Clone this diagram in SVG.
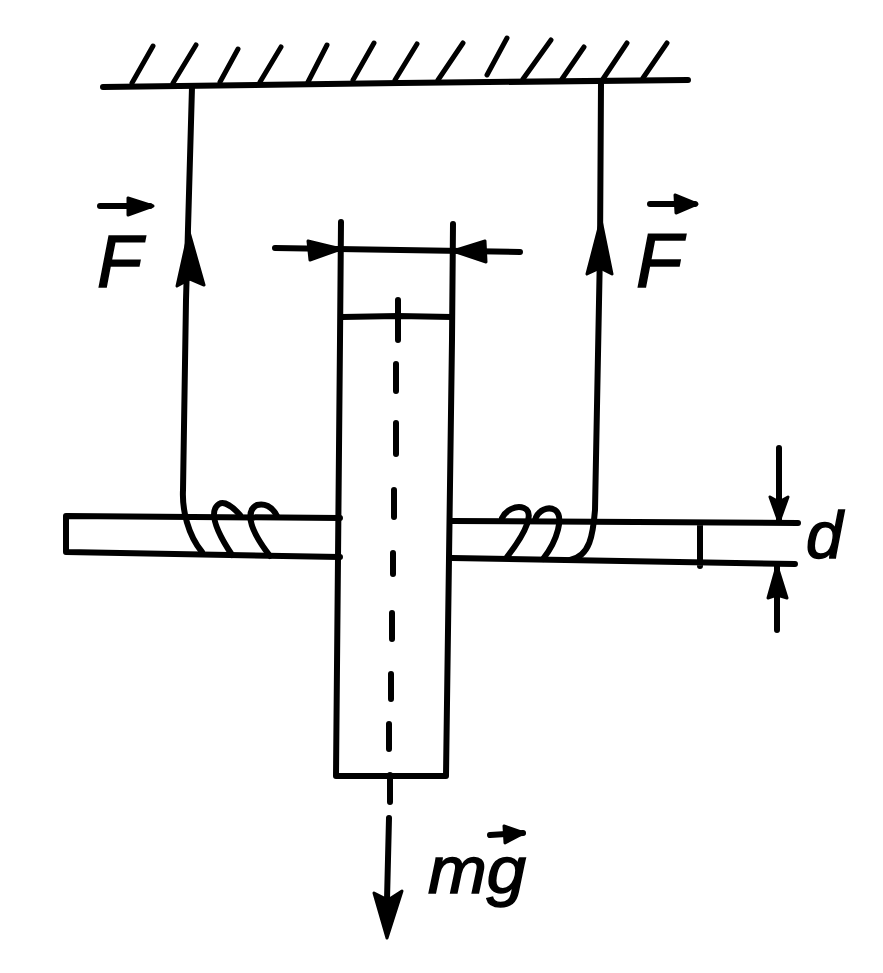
<svg xmlns="http://www.w3.org/2000/svg" width="883" height="973" viewBox="0 0 883 973">
<style>
.l{fill:none;stroke:#000;stroke-width:6;stroke-linecap:round;stroke-linejoin:round}
.t{stroke-width:5}
.h{fill:#000;stroke:#000;stroke-width:3;stroke-linejoin:round}
text{font-family:"Liberation Sans",Arial,sans-serif;font-style:italic;fill:#000;stroke:#000;stroke-width:1.5}
</style>
<rect width="883" height="973" fill="#fff"/>
<g id="ceiling">
<path class="l" d="M103 87L400 83L688 80"/>
<path class="l t" d="M132 83L153 46M173 83L196 45M220 82L238 49M260 82L281 47M308 82L327 45M353 80L374 43M395 80L417 44M438 80L463 43M487 75L507 38M523 79L551 40M562 79L584 47M603 79L627 43M643 78L667 43"/>
</g>
<g id="block">
<path class="l" d="M341 222L340 340L336 776L446 776L452 340L453 224"/>
<path class="l" d="M342 317L398 316L452 317"/>
<path class="l" d="M398 300V340M396 364V391M396 423V454M394 490V517M393 553V574M392 613V639M391 674V699M389 724V749"/>
</g>
<g id="left-bar">
<path class="l" d="M66 516L340 518M66 516V552L340 557"/>
</g>
<g id="right-bar">
<path class="l" d="M452 521L798 523M452 558L795 564M700 523V566"/>
</g>
<g id="left-coil">
<path class="l" d="M192 87L186 300L183 490C182 510 188 535 202 552"/>
<path class="l" d="M240 515C232 506 224 501 219 504C210 510 212 525 232 555"/>
<path class="l" d="M277 516C272 506 264 503 257 505C247 510 246 525 270 556"/>
</g>
<g id="right-coil">
<path class="l" d="M601 83L600 250L595 510C593 535 590 556 570 560"/>
<path class="l" d="M502 518C506 510 516 505 524 508C534 512 528 530 507 557"/>
<path class="l" d="M535 520C538 510 548 506 555 510C564 516 558 540 543 559"/>
</g>
<g id="connectors">
<path class="h" d="M189 232L204 285L190 279L177 286Z"/>
<path class="h" d="M601 220L612 274L600 268L587 274Z"/>
<path class="l" d="M275 248L520 252"/>
<path class="h" d="M341 249L308 241L310 260Z"/>
<path class="h" d="M453 251L485 241L486 262Z"/>
<path class="l" d="M779 448V522M777 565V630"/>
<path class="h" d="M779 522L770 497L779 502L788 497Z"/>
<path class="h" d="M777 566L768 598L777 595L787 598Z"/>
<path class="l" d="M390 775V802M389 818L387 900"/>
<path class="h" d="M387 938L374 893L388 900L402 891Z"/>
</g>
<g id="label-F-left">
<path class="l" d="M100 206L150 206"/><path class="h" d="M153 206L128 198L128 215Z"/>
<text x="97" y="287" font-size="74">F</text>
</g>
<g id="label-F-right">
<path class="l" d="M650 204L695 204"/><path class="h" d="M697 204L675 195L676 213Z"/>
<text x="636" y="287" font-size="76">F</text>
</g>
<g id="label-d"><text x="806" y="558" font-size="66">d</text></g>
<g id="label-mg">
<path class="l" d="M490 835L523 833"/><path class="h" d="M524 833L504 826L505 843Z"/>
<text x="428" y="893" font-size="66" textLength="98" lengthAdjust="spacingAndGlyphs">mg</text>
</g>
</svg>
